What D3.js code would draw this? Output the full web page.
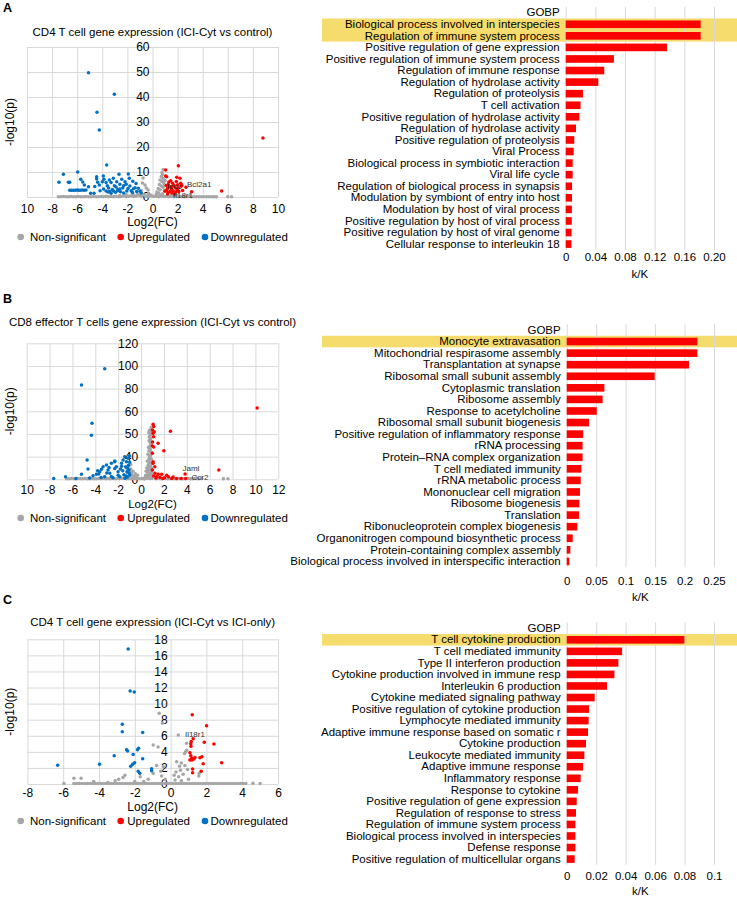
<!DOCTYPE html>
<html><head><meta charset="utf-8">
<script src="https://cdn.jsdelivr.net/npm/d3@7"></script>
<style>body{margin:0;background:#fff}svg{display:block;font-family:"Liberation Sans",Arial,sans-serif}</style>
</head><body><svg id="c" width="737" height="900"></svg>
<script>
// ---------------- DATA ----------------
const legendLabels = ["Non-significant","Upregulated","Downregulated"];
const gobpHeader = "GOBP";

// Panel A volcano
const aTitle = "CD4 T cell gene expression (ICI-Cyt vs control)";
const aXTicks = [-10,-8,-6,-4,-2,0,2,4,6,8,10];
const aXLabels = ["10","-8","-6","-4","-2","0","2","4","6","8","10"];
const aYTicks = [0,10,20,30,40,50,60];
const aYLabels = ["0","10","20","30","40","50","60"];
const aDown = [[-5.1,49.7],[-3.04,41.1],[-4.42,33.9],[-4.24,26.8],[-3.65,12.8],
 [-7.1,9.1],[-5.96,10.0],[-7.45,5.9],[-6.7,5.9],[-6.6,5.9],[-5.72,7.1],[-5.56,6.0],[-5.43,4.8],[-5.1,4.1],
 [-6.6,2.7],[-6.45,2.7],[-6.3,2.7],[-6.15,2.7],[-6.0,2.8],[-5.9,2.7],[-5.75,2.7],[-5.6,2.8],[-5.45,2.7],[-5.3,2.8],
 [-4.93,1.5],[-4.66,1.5],[-4.45,8.1],[-4.45,7.2],[-4.37,5.9],[-4.24,4.8],[-4.18,2.5],[-3.92,8.4],[-3.87,7.1],[-3.7,5.8],
 [-3.6,4.5],[-3.44,6.8],[-3.4,2.2],[-3.3,5.8],[-3.12,7.5],[-3.04,4.5],[-2.85,6.1],[-2.77,3.0],[-2.67,9.1],[-2.6,5.1],
 [-2.45,7.1],[-2.37,3.6],[-2.19,6.1],[-2.1,5.1],[-2.05,2.4],[-1.93,9.2],[-1.85,7.5],[-1.8,4.4],[-1.57,6.3],[-1.52,3.3],
 [-1.39,3.7],[-1.26,2.2],[-1.13,3.5],[-1.31,5.4],[-3.7,2.4],[-3.55,2.0],[-3.1,2.4],[-2.95,1.9],[-2.55,2.1],[-2.3,1.6],
 [-3.9,3.2],[-4.0,6.1],[-3.5,3.6],[-2.9,4.0],[-2.3,4.5],[-1.7,2.5],[-1.0,2.3],[-0.9,1.6],[-4.6,4.2],[-3.2,3.0],
 [-2.6,3.2],[-1.95,3.4],[-1.6,1.8],[-2.75,2.5],[-3.3,1.5]];
const aUp = [[8.8,23.6],[2.06,12.5],[1.05,10.8],[1.05,8.4],[1.93,7.9],[1.45,6.5],[1.3,6.0],[1.6,5.5],[2.25,5.5],
 [2.3,4.4],[2.67,3.9],[1.13,2.8],[1.2,3.5],[1.35,4.2],[1.5,3.2],[1.65,2.5],[1.8,3.8],[1.95,2.9],[2.1,2.2],[1.0,2.3],
 [1.25,1.8],[1.55,1.6],[1.85,1.9],[2.4,2.6],[3.12,2.1],[5.51,2.4],[1.1,4.6],[1.7,4.6],[2.0,4.9],[1.4,2.2],
 [1.13,8.1],[2.19,7.5],[2.33,4.8],[1.2,1.2],[1.75,1.1],[1.5,4.0],[1.9,6.2],[1.25,5.0],[2.05,3.6]];
const aNS = [[-7.5,0.1],[-7.3,0.1],[-7.1,0.2],[-6.9,0.1],[-6.7,0.1],[-6.5,0.2],[-6.3,0.1],[-6.1,0.1],[-5.9,0.2],
 [-5.7,0.1],[-5.5,0.1],[-5.3,0.2],[-5.1,0.1],[-4.9,0.1],[-4.7,0.2],[-4.5,0.1],[-4.3,0.1],[-4.1,0.2],[-3.9,0.1],
 [-3.7,0.3],[-3.5,0.1],[-3.3,0.2],[-3.1,0.1],[-2.9,0.3],[-2.7,0.1],[-2.5,0.2],[-2.3,0.4],[-2.1,0.1],[-1.9,0.3],
 [-1.7,0.5],[-1.5,0.2],[-1.3,0.4],[-1.1,0.7],[-0.9,0.3],[-0.7,0.9],[-0.5,0.4],[-0.3,0.2],[-0.1,0.5],[0.1,0.2],
 [0.3,0.3],[0.5,0.1],[0.7,0.4],[0.9,0.2],[1.1,0.3],[1.3,0.1],[1.5,0.2],[1.7,0.1],[1.9,0.2],[2.1,0.1],[2.3,0.2],
 [2.5,0.1],[2.7,0.1],[2.9,0.2],[3.1,0.1],[3.3,0.1],[3.5,0.1],[3.7,0.1],[3.9,0.1],[4.1,0.1],[4.3,0.1],[4.5,0.1],
 [4.7,0.1],[4.9,0.1],[5.1,0.1],[6.0,0.1],[6.3,0.1],
 [-0.75,7.6],[-0.8,5.6],[-0.6,4.8],[-0.5,3.6],[-0.35,2.8],[-0.9,2.6],[-1.2,1.2],[-1.5,0.8],[-2.1,0.9],[-2.6,0.6],
 [-1.0,0.6],[-0.3,1.4],[-0.15,0.8],[0.86,11.0],[0.75,9.8],[0.8,9.0],[0.7,8.2],[0.85,7.4],[0.6,6.8],[0.75,6.2],
 [0.9,5.6],[0.55,5.0],[0.7,4.4],[0.85,3.9],[0.45,3.4],[0.6,2.9],[0.95,2.6],[0.35,2.0],[0.5,1.6],[0.8,1.3],[0.3,1.0],
 [0.65,0.7],[1.2,0.9],[1.5,0.6],[2.0,0.5],[2.5,0.4],[3.0,0.5],[0.95,4.8],[1.0,6.6]];
const aGenes = [["Bcl2a1",2.75,4.2],["Icos",1.16,3.2],["Il18r1",1.63,-0.4]];

// Panel B volcano
const bTitle = "CD8 effector T cells gene expression (ICI-Cyt vs control)";
const bXTicks = [-10,-8,-6,-4,-2,0,2,4,6,8,10,12];
const bXLabels = ["10","-8","-6","-4","-2","0","2","4","6","8","10","12"];
const bYTicks = [0,20,40,60,80,100,120];
const bYLabels = ["0","40","50","60","80","100","120"];
const bDown = [[-3.18,97.6],[-5.21,83.2],[-4.29,49.4],[-4.34,38.8],[-4.72,17.0],[-4.64,9.1],[-7.64,0.8],[-6.61,2.3],
 [-5.21,4.4],[-5.7,0.8],[-4.2,3.2],[-3.7,4.7],[-3.61,6.7],[-3.46,8.8],[-3.32,11.1],[-3.03,12.6],[-2.89,8.2],[-2.59,14.1],
 [-2.3,15.5],[-2.3,9.6],[-2.01,6.7],[-1.71,14.1],[-1.57,17.0],[-1.43,20.0],[-1.14,18.5],[-1.28,15.5],[-1.34,11.1],
 [-1.23,6.7],[-1.05,8.2],[-0.99,3.8],[-1.87,2.3],[-2.45,1.4],[-3.18,2.3],[-3.9,4.4],[-2.74,5.3],[-2.16,11.1],[-1.8,9.0],
 [-1.5,4.0],[-1.1,12.5],[-1.0,15.0],[-1.2,2.0],[-1.6,7.5],[-2.6,2.5],[-3.0,5.5],[-3.5,1.5],[-4.5,1.2],[-2.0,3.5],
 [-1.4,1.0],[-1.05,5.5],[-2.8,10.5],[-3.8,7.5],[-1.0,20.5],[-1.2,10.0],[-2.3,16.1],[-1.7,11.5],[-1.3,3.0]];
const bUp = [[10.15,62.9],[1.05,48.5],[1.11,46.5],[1.0,43.5],[1.05,40.6],[1.15,42.0],[2.57,42.4],[1.49,31.8],[1.1,28.6],
 [0.99,29.4],[1.99,25.3],[0.99,22.9],[1.05,15.5],[1.05,14.1],[0.99,8.2],[1.22,5.3],[1.5,4.4],[1.8,4.4],[2.24,3.5],
 [2.39,2.3],[1.37,2.3],[1.66,1.7],[2.04,1.4],[2.68,0.8],[3.1,0.8],[3.5,0.8],[3.85,4.7],[3.9,0.8],[6.8,8.2],[1.1,37.6],
 [1.0,33.0],[1.2,11.0],[1.1,3.0],[1.3,1.2],[1.9,0.8],[2.8,2.0]];
const bNS = [[-6.5,0.5],[-6.3,0.5],[-6.1,0.6],[-5.9,0.5],[-5.7,0.5],[-5.5,0.6],[-5.3,0.5],[-5.1,0.5],[-4.9,0.6],
 [-4.7,0.5],[-4.5,0.5],[-4.3,0.6],[-4.1,0.5],[-3.9,0.5],[-3.7,0.6],[-3.5,0.5],[-3.3,0.7],[-3.1,0.5],[-2.9,0.6],
 [-2.7,0.5],[-2.5,0.8],[-2.3,0.5],[-2.1,0.7],[-1.9,0.5],[-1.7,0.9],[-1.5,0.6],[-1.3,0.5],[-1.1,0.7],[-0.9,0.5],
 [-0.7,0.6],[-0.5,0.5],[-0.3,0.7],[-0.1,0.5],[0.1,0.6],[0.3,0.5],[1.3,0.5],[1.5,0.6],[1.7,0.5],[1.9,0.5],[2.1,0.6],
 [2.3,0.5],[2.5,0.5],[2.7,0.6],[2.9,0.5],[3.1,0.5],[3.3,0.6],[3.5,0.5],[3.7,0.5],[3.9,0.5],[4.1,0.6],[4.3,0.5],
 [4.5,0.5],[4.7,0.6],[4.85,1.2],[5.0,0.5],[5.3,0.8],[7.2,0.5],[7.6,0.5],
 [0.9,46],[0.85,44],[0.8,42],[0.88,40],[0.75,38],[0.85,36],[0.7,34],[0.8,32],[0.9,30],[0.65,28],[0.78,26],[0.88,24],
 [0.6,22],[0.75,20],[0.9,18],[0.55,16],[0.7,14],[0.85,12],[0.5,10],[0.65,9],[0.8,8],[0.45,7],[0.6,6],[0.75,5],[0.9,4],
 [0.4,3.5],[0.55,3],[0.7,2.5],[0.85,2],[0.35,1.6],[0.5,1.3],[0.65,1],[0.8,0.8],[0.95,0.6],[0.3,0.5],[0.7,11],[0.8,15],
 [0.72,19],[0.82,21],[0.68,25],[0.8,27],[0.72,29],[0.85,33],[0.78,35],[0.74,37],[0.84,39],[0.68,41],[0.72,43],
 [0.62,12.5],[0.58,8],[0.92,10],[0.95,14],[0.66,17],[0.6,4.5],[0.5,2.2],[0.9,6],[0.45,1],
 [-1.3,10],[-1.1,11.5],[-0.9,9],[-0.7,7],[-0.5,5],[-1.2,6],[-0.8,4],[-0.6,2.5],[-0.4,1.5],[-1.0,3],[-1.4,2],
 [-0.3,3.5],[-0.9,13],[-1.1,8],[-0.7,2],[-0.85,6],[-0.55,3.2],[-1.0,5]];
const bGenes = [["Jaml",3.62,7.3],["Ccr2",4.41,-0.6]];

// Panel C volcano
const cTitle = "CD4 T cell gene expression (ICI-Cyt vs ICI-only)";
const cXTicks = [-8,-6,-4,-2,0,2,4,6];
const cXLabels = ["-8","-6","-4","-2","0","2","4","6"];
const cYTicks = [0,2,4,6,8,10,12,14,16,18];
const cYLabels = ["0","2","4","6","8","10","12","14","16","18"];
const cDown = [[-2.37,16.8],[-2.26,11.57],[-2.03,11.44],[-2.7,7.42],[-2.7,6.5],[-1.56,6.4],[-2.46,4.27],[-2.4,4.1],
 [-1.79,4.44],[-1.85,4.25],[-3.15,3.5],[-2.09,3.68],[-1.56,3.15],[-3.97,2.45],[-6.31,2.32],[-2.01,2.65],[-2.12,2.45],
 [-2.23,2.2],[-1.06,1.9],[-1.06,1.65],[-1.81,1.6],[-1.72,1.33]];
const cUp = [[1.21,8.62],[2.01,7.26],[2.42,4.97],[1.88,5.18],[1.26,5.64],[1.15,5.3],[1.13,5.0],[1.14,4.7],[1.08,3.9],
 [1.13,3.5],[1.36,3.3],[1.08,2.98],[1.2,2.98],[1.64,3.28],[1.75,3.4],[2.85,2.65],[1.82,2.53],[1.23,1.87],[1.23,1.41],
 [1.71,1.6],[1.3,3.1],[1.18,3.2]];
const cNS = [[-5.96,0.05],[-5.4,0.05],[-5.25,0.05],[-5.1,0.05],[-4.95,0.05],[-4.8,0.05],[-4.65,0.05],[-4.5,0.05],
 [-4.35,0.05],[-4.2,0.05],[-4.05,0.05],[-3.9,0.05],[-3.75,0.05],[-3.6,0.05],[-3.45,0.05],[-3.3,0.05],[-3.15,0.05],
 [-3.0,0.05],[-2.85,0.05],[-2.7,0.05],[-2.55,0.05],[-2.4,0.05],[-2.25,0.05],[-2.1,0.05],[-1.95,0.05],[-1.8,0.05],
 [-1.65,0.05],[-1.5,0.05],[-1.35,0.05],[-1.2,0.05],[-1.05,0.05],[-0.9,0.05],[-0.75,0.05],[-0.6,0.05],[-0.45,0.05],
 [-0.3,0.05],[-0.15,0.05],[0,0.05],[0.15,0.05],[0.3,0.05],[0.45,0.05],[0.6,0.05],[0.75,0.05],[0.9,0.05],[1.05,0.05],
 [1.2,0.05],[1.35,0.05],[1.5,0.05],[1.65,0.05],[1.8,0.05],[1.95,0.05],[2.1,0.05],[2.25,0.05],[2.4,0.05],[2.55,0.05],
 [2.7,0.05],[2.85,0.05],[3.0,0.05],[3.15,0.05],[3.3,0.05],[3.45,0.05],[3.6,0.05],[3.75,0.05],[3.9,0.05],[4.05,0.05],
 [4.2,0.05],[4.6,0.1],[5.0,0.05],[-5.4,0.7],[-5.0,0.7],
 [-0.64,8.8],[-0.45,7.55],[0.43,6.1],[-0.97,4.85],[-0.7,4.6],[0.84,4.0],[0.78,3.8],[0.9,4.2],[0.89,5.06],[-0.41,2.15],
 [-0.78,2.3],[0.34,2.77],[0.6,2.6],[0.5,2.2],[-2.55,1.1],[-2.66,0.8],[-2.9,0.6],[-1.25,0.6],[-0.97,1.3],[-0.5,1.0],
 [1.6,1.33],[1.58,1.0],[0.3,1.5],[0.45,0.9],[0.7,1.2],[0.25,0.5],[0.6,0.4],[-0.3,0.6],[-1.5,0.3],[-2.0,0.3],
 [-3.5,0.2],[1.0,0.6],[0.95,1.8],[-0.55,1.6],[0.2,1.1],[0.55,1.7],[0.8,2.3],[-1.7,0.9],[-3.1,0.4],[-4.3,0.3]];
const cGenes = [["Il18r1",0.8,5.85]];

// Bar charts (GO biological process enrichment, k/K)
const aTerms = ["Biological process involved in interspecies","Regulation of immune system process",
 "Positive regulation of gene expression","Positive regulation of immune system process","Regulation of immune response",
 "Regulation of hydrolase activity","Regulation of proteolysis","T cell activation","Positive regulation of hydrolase activity",
 "Regulation of hydrolase activity","Positive regulation of proteolysis","Viral Process",
 "Biological process in symbiotic interaction","Viral life cycle","Regulation of biological process in synapsis",
 "Modulation by symbiont of entry into host","Modulation by host of viral process",
 "Positive regulation by host of viral process","Positive regulation by host of viral genome",
 "Cellular response to interleukin 18"];
const aValues = [0.182,0.182,0.1366,0.065,0.052,0.044,0.0233,0.020,0.0184,0.0139,0.0116,0.0108,0.0094,0.0094,
 0.0086,0.0085,0.0083,0.0082,0.0079,0.0077];
const aHighlight = ["Biological process involved in interspecies","Regulation of immune system process"];
const aBarTicks = [0,0.04,0.08,0.12,0.16,0.20];
const aBarLabels = ["0","0.04","0.08","0.12","0.16","0.20"];

const bTerms = ["Monocyte extravasation","Mitochondrial respirasome assembly","Transplantation at synapse",
 "Ribosomal small subunit assembly","Cytoplasmic translation","Ribosome assembly","Response to acetylcholine",
 "Ribosomal small subunit biogenesis","Positive regulation of inflammatory response","rRNA processing",
 "Protein\u2013RNA complex organization","T cell mediated immunity","rRNA metabolic process","Mononuclear cell migration",
 "Ribosome biogenesis","Translation","Ribonucleoprotein complex biogenesis","Organonitrogen compound biosynthetic process",
 "Protein-containing complex assembly","Biological process involved in interspecific interaction"];
const bValues = [0.2218,0.2218,0.2076,0.1493,0.064,0.061,0.051,0.038,0.028,0.027,0.027,0.025,0.0238,0.0226,0.0215,
 0.021,0.018,0.0102,0.0062,0.0045];
const bHighlight = ["Monocyte extravasation"];
const bBarTicks = [0,0.05,0.1,0.15,0.2,0.25];
const bBarLabels = ["0","0.05","0.1","0.15","0.2","0.25"];

const cTerms = ["T cell cytokine production","T cell mediated immunity","Type II interferon production",
 "Cytokine production involved in immune resp","Interleukin 6 production","Cytokine mediated signaling pathway",
 "Positive regulation of cytokine production","Lymphocyte mediated immunity","Adaptive immune response based on somatic r",
 "Cytokine production","Leukocyte mediated immunity","Adaptive immune response","Inflammatory response",
 "Response to cytokine","Positive regulation of gene expression","Regulation of response to stress",
 "Regulation of immune system process","Biological process involved in interspecies","Defense response",
 "Positive regulation of multicellular organs"];
const cValues = [0.0799,0.0376,0.0351,0.0324,0.0274,0.019,0.0152,0.0149,0.0145,0.0131,0.012,0.0111,0.0095,0.0077,
 0.0068,0.0063,0.0059,0.0059,0.0059,0.0054];
const cHighlight = ["T cell cytokine production"];
const cBarTicks = [0,0.02,0.04,0.06,0.08,0.1];
const cBarLabels = ["0","0.02","0.04","0.06","0.08","0.1"];

// ---------------- DRAWING ----------------
const FONT = '"Liberation Sans", Arial, sans-serif';
const svg = d3.select("#c");
const GRID = "#d9d9d9", GRAY = "#a6a6a6", RED = "#ff0000", BLUE = "#0070c0", HL = "#f6dc6c";

function styleAxis(s, size) {
  s.attr("font-family", FONT).attr("font-size", size);
  s.select(".domain").remove();
  s.selectAll("text").attr("fill", "#000");
}

function volcano(o) {
  const g = svg.append("g");
  const x = d3.scaleLinear().domain(o.xDomain).range([o.left, o.right]);
  const y = d3.scaleLinear().domain(o.yDomain).range([o.bottom, o.top]);
  // grid
  g.append("g").attr("transform", `translate(0,${o.bottom})`)
    .call(d3.axisBottom(x).tickValues(o.xTicks).tickSize(-(o.bottom - o.top)).tickFormat(""))
    .call(s => { s.select(".domain").remove(); s.selectAll("line").attr("stroke", GRID); });
  g.append("g").attr("transform", `translate(${o.left},0)`)
    .call(d3.axisLeft(y).tickValues(o.yTicks).tickSize(-(o.right - o.left)).tickFormat(""))
    .call(s => { s.select(".domain").remove(); s.selectAll("line").attr("stroke", GRID); });
  // y tick labels at x = 0
  g.append("g").attr("transform", `translate(${x(0)},0)`)
    .call(d3.axisLeft(y).tickValues(o.yTicks).tickFormat((d, i) => o.yLabels[i]).tickSize(0).tickPadding(3))
    .call(s => styleAxis(s, 12));
  // points
  [[o.ns, GRAY], [o.down, BLUE], [o.up, RED]].forEach(([arr, col]) => {
    g.append("g").selectAll("circle").data(arr).join("circle")
      .attr("cx", d => x(d[0])).attr("cy", d => y(d[1])).attr("r", 1.75).attr("fill", col);
  });
  // gene labels
  g.append("g").selectAll("text").data(o.genes).join("text")
    .attr("x", d => x(d[1])).attr("y", d => y(d[2])).text(d => d[0])
    .attr("font-family", FONT).attr("font-size", 8).attr("fill", "#333");
  // x tick labels
  g.append("g").attr("transform", `translate(0,${o.bottom})`)
    .call(d3.axisBottom(x).tickValues(o.xTicks).tickFormat((d, i) => o.xLabels[i]).tickSize(0))
    .call(s => { styleAxis(s, 12); s.selectAll("text").attr("y", o.xTickBase - o.bottom).attr("dy", 0); });
  // titles
  const cx = (o.left + o.right) / 2;
  g.append("text").attr("x", cx).attr("y", o.titleY).attr("text-anchor", "middle")
    .attr("font-family", FONT).attr("font-size", 11.5).text(o.title);
  g.append("text").attr("x", 3).attr("y", o.letterY).attr("font-family", FONT)
    .attr("font-size", 12.5).attr("font-weight", "bold").text(o.letter);
  g.append("text").attr("x", cx).attr("y", o.xTitleY).attr("text-anchor", "middle")
    .attr("font-family", FONT).attr("font-size", o.xTitleSize).text("Log2(FC)");
  g.append("text").attr("transform", `translate(14,${(o.top + o.bottom) / 2}) rotate(-90)`)
    .attr("text-anchor", "middle").attr("font-family", FONT).attr("font-size", 12).text("-log10(p)");
  // legend
  const lg = [[20.7, 30, GRAY], [120.7, 127.3, RED], [205, 210.5, BLUE]];
  lg.forEach(([mx, tx, col], i) => {
    g.append("circle").attr("cx", mx).attr("cy", o.legendY - 4).attr("r", 3.3).attr("fill", col);
    g.append("text").attr("x", tx).attr("y", o.legendY).attr("font-family", FONT)
      .attr("font-size", 11.5).text(legendLabels[i]);
  });
}

function bars(o) {
  const g = svg.append("g");
  const n = o.terms.length + 1;
  const bottom = o.top + n * o.step;
  const yb = d3.scaleBand().domain(d3.range(n)).range([o.top, bottom]).padding(0);
  const x = d3.scaleLinear().domain([0, o.ticks[o.ticks.length - 1]]).range([o.x0, o.x1]);
  // highlight band
  g.append("g").selectAll("rect").data(o.terms.map((t, i) => [t, i]).filter(d => o.highlight.includes(d[0])))
    .join("rect").attr("x", 322).attr("width", 737 - 322)
    .attr("y", d => yb(d[1] + 1)).attr("height", yb.bandwidth()).attr("fill", HL);
  // grid
  g.append("g").attr("transform", `translate(0,${bottom})`)
    .call(d3.axisBottom(x).tickValues(o.ticks).tickSize(-(bottom - o.top)).tickFormat(""))
    .call(s => { s.select(".domain").remove(); s.selectAll("line").attr("stroke", GRID); });
  // bars
  const bh = o.step * 0.66;
  g.append("g").selectAll("rect").data(o.values).join("rect")
    .attr("x", x(0)).attr("y", (d, i) => yb(i + 1) + (yb.bandwidth() - bh) / 2)
    .attr("width", d => x(d) - x(0)).attr("height", bh).attr("fill", RED);
  // category labels
  g.append("g").attr("transform", `translate(${x(0)},0)`)
    .call(d3.axisLeft(yb).tickSize(0).tickPadding(6).tickFormat(i => i === 0 ? gobpHeader : o.terms[i - 1]))
    .call(s => styleAxis(s, 11.5));
  // value axis labels
  g.append("g").attr("transform", `translate(0,${bottom})`)
    .call(d3.axisBottom(x).tickValues(o.ticks).tickFormat((d, i) => o.labels[i]).tickSize(0))
    .call(s => { styleAxis(s, 11.5); s.selectAll("text").attr("y", o.tickBase - bottom).attr("dy", 0); });
  g.append("text").attr("x", (o.x0 + o.x1) / 2).attr("y", o.titleBase).attr("text-anchor", "middle")
    .attr("font-family", FONT).attr("font-size", 11.5).text("k/K");
}

volcano({letter: "A", title: aTitle, left: 27, right: 278, top: 47, bottom: 197, xDomain: [-10, 10], yDomain: [0, 60],
  xTicks: aXTicks, xLabels: aXLabels, yTicks: aYTicks, yLabels: aYLabels, ns: aNS, up: aUp, down: aDown, genes: aGenes,
  titleY: 36, letterY: 12.3, xTickBase: 213, xTitleY: 225.5, xTitleSize: 12, legendY: 241});
volcano({letter: "B", title: bTitle, left: 26.7, right: 278.3, top: 343.3, bottom: 479.3, xDomain: [-10, 12], yDomain: [0, 120],
  xTicks: bXTicks, xLabels: bXLabels, yTicks: bYTicks, yLabels: bYLabels, ns: bNS, up: bUp, down: bDown, genes: bGenes,
  titleY: 326, letterY: 303.3, xTickBase: 494.5, xTitleY: 508, xTitleSize: 11.5, legendY: 522});
volcano({letter: "C", title: cTitle, left: 27.4, right: 278, top: 639.3, bottom: 784, xDomain: [-8, 6], yDomain: [0, 18],
  xTicks: cXTicks, xLabels: cXLabels, yTicks: cYTicks, yLabels: cYLabels, ns: cNS, up: cUp, down: cDown, genes: cGenes,
  titleY: 626, letterY: 604, xTickBase: 796.5, xTitleY: 810.5, xTitleSize: 12, legendY: 825});

bars({terms: aTerms, values: aValues, highlight: aHighlight, ticks: aBarTicks, labels: aBarLabels,
  top: 6.9, step: 11.57, x0: 565.7, x1: 714, tickBase: 261, titleBase: 278});
bars({terms: bTerms, values: bValues, highlight: bHighlight, ticks: bBarTicks, labels: bBarLabels,
  top: 324.2, step: 11.57, x0: 566.7, x1: 714, tickBase: 585, titleBase: 601});
bars({terms: cTerms, values: cValues, highlight: cHighlight, ticks: cBarTicks, labels: cBarLabels,
  top: 622.5, step: 11.54, x0: 566.7, x1: 714, tickBase: 880, titleBase: 895});
</script></body></html>
